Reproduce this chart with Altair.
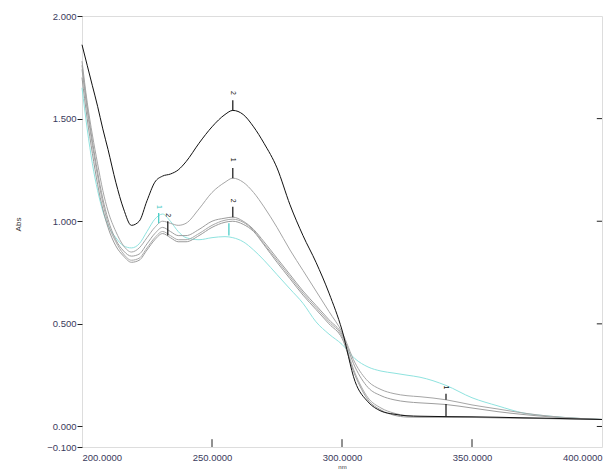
import altair as alt
import pandas as pd

wl = [200, 202, 204, 206, 208, 210, 213, 216, 219, 222, 225, 228, 231, 234, 237, 240,
      245, 250, 255, 258, 262, 266, 270, 275, 280, 285, 290, 295, 300, 305, 310, 315,
      320, 325, 330, 340, 350, 360, 370, 380, 390, 400]

cyan = [1.65, 1.45, 1.28, 1.15, 1.05, 0.98, 0.92, 0.88, 0.87, 0.89, 0.95, 1.01, 1.035, 1.00, 0.95, 0.92,
        0.91, 0.92, 0.925, 0.92, 0.90, 0.86, 0.81, 0.74, 0.67, 0.60, 0.51, 0.45, 0.40, 0.33, 0.29, 0.27,
        0.26, 0.25, 0.24, 0.20, 0.14, 0.10, 0.065, 0.05, 0.04, 0.034]
gray_b = [1.70, 1.50, 1.33, 1.18, 1.06, 0.97, 0.88, 0.83, 0.80, 0.81, 0.86, 0.91, 0.94, 0.92, 0.90, 0.90,
          0.93, 0.97, 0.995, 1.00, 0.985, 0.95, 0.885, 0.80, 0.72, 0.64, 0.57, 0.50, 0.43, 0.25, 0.13, 0.08,
          0.055, 0.046, 0.045, 0.045, 0.044, 0.042, 0.040, 0.038, 0.036, 0.034]
gray_c = [1.74, 1.54, 1.37, 1.22, 1.09, 0.99, 0.90, 0.84, 0.81, 0.82, 0.87, 0.92, 0.95, 0.93, 0.91, 0.91,
          0.94, 0.98, 1.005, 1.01, 0.995, 0.955, 0.89, 0.81, 0.73, 0.65, 0.58, 0.51, 0.44, 0.26, 0.14, 0.09,
          0.065, 0.052, 0.048, 0.046, 0.045, 0.043, 0.041, 0.039, 0.036, 0.034]
gray_a = [1.76, 1.56, 1.39, 1.24, 1.11, 1.01, 0.91, 0.855, 0.83, 0.84, 0.89, 0.94, 0.97, 0.95, 0.93, 0.93,
          0.96, 1.00, 1.015, 1.02, 1.00, 0.96, 0.90, 0.82, 0.74, 0.66, 0.59, 0.52, 0.45, 0.29, 0.19, 0.15,
          0.13, 0.12, 0.115, 0.107, 0.09, 0.072, 0.058, 0.047, 0.04, 0.034]
curve_1 = [1.78, 1.58, 1.42, 1.28, 1.15, 1.05, 0.95, 0.88, 0.85, 0.87, 0.92, 0.97, 1.00, 0.99, 0.98, 0.99,
           1.06, 1.14, 1.19, 1.21, 1.19, 1.14, 1.07, 0.97, 0.86, 0.76, 0.66, 0.56, 0.46, 0.31, 0.22, 0.18,
           0.16, 0.15, 0.145, 0.13, 0.105, 0.085, 0.065, 0.05, 0.04, 0.034]
black = [1.86, 1.76, 1.66, 1.56, 1.45, 1.35, 1.19, 1.06, 0.98, 1.00, 1.10, 1.19, 1.22, 1.23, 1.25, 1.29,
         1.38, 1.46, 1.52, 1.54, 1.52, 1.46, 1.38, 1.26, 1.08, 0.93, 0.80, 0.65, 0.47, 0.22, 0.12, 0.075,
         0.06, 0.052, 0.05, 0.048, 0.047, 0.045, 0.042, 0.04, 0.037, 0.034]

series_names = ["cyan", "gray_b", "gray_c", "gray_a", "curve_1", "black"]
series_vals = [cyan, gray_b, gray_c, gray_a, curve_1, black]
series_colors = ["#8fe3df", "#9a9a9a", "#a8a8a8", "#9e9e9e", "#a6a6a6", "#111111"]
series_widths = [1.0, 1.0, 1.0, 1.0, 1.0, 1.6]

rows = []
for k, (name, vals) in enumerate(zip(series_names, series_vals)):
    for w, v in zip(wl, vals):
        rows.append({"nm": w, "abs": v, "series": name, "k": k})
df = pd.DataFrame(rows)

# peak markers (arrow ticks + rotated labels)
mk_nm = [258, 258, 258, 233, 229.5, 340, 340, 256.5]
mk_tip = [1.54, 1.21, 1.02, 0.93, 0.99, 0.13, 0.05, 0.93]
mk_top = [1.59, 1.26, 1.07, 1.00, 1.04, 0.16, 0.11, 0.99]
mk_label = ["2", "1", "2", "2", "1", "1", "", ""]
mk_label_y = [1.625, 1.30, 1.10, 1.03, 1.07, 0.19, 0.19, 0.19]
mk_color = ["#111111", "#111111", "#111111", "#111111", "#3fc9c4", "#111111", "#111111", "#3fc9c4"]
mk = pd.DataFrame({"nm": mk_nm, "tip": mk_tip, "top": mk_top, "label": mk_label,
                   "ly": mk_label_y, "color": mk_color})

# inward frame ticks
xtick_vals = [250, 300, 350]
rtick_vals = [0.0, 0.5, 1.0, 1.5]
xt = pd.DataFrame({"nm": xtick_vals, "y0": [-0.1] * 3, "y1": [-0.062] * 3})
rt = pd.DataFrame({"v": rtick_vals, "x0": [398.0] * 4, "x1": [400.0] * 4})

xscale = alt.Scale(domain=[200, 400], nice=False, zero=False)
yscale = alt.Scale(domain=[-0.1, 2.0], nice=False, zero=False)

xaxis = alt.Axis(values=[200, 250, 300, 350, 400], format=".4f", title="nm", ticks=False,
                 labelPadding=5, labelFontSize=9.5, labelColor="#3a3a5c", grid=False, domain=False,
                 titleFontSize=6, titleY=16, titleBaseline="top", titleColor="#333333",
                 titleFontWeight="normal",
                 labelFont="Liberation Sans", titleFont="Liberation Sans")
yaxis = alt.Axis(values=[-0.1, 0.0, 0.5, 1.0, 1.5, 2.0], format=".3f", title="Abs", tickSize=5,
                 tickColor="#222222", labelPadding=1, labelFontSize=9.5, labelColor="#3a3a5c",
                 grid=False, domain=False, titleFontSize=8, titleColor="#333333",
                 titleFontWeight="normal",
                 titleX=-64, titleY=208, titleAlign="center", titleBaseline="middle",
                 labelFont="Liberation Sans", titleFont="Liberation Sans")

lines = alt.Chart(df).mark_line(interpolate="monotone").encode(
    x=alt.X("nm:Q", scale=xscale, axis=xaxis),
    y=alt.Y("abs:Q", scale=yscale, axis=yaxis),
    color=alt.Color("series:N", scale=alt.Scale(domain=series_names, range=series_colors), legend=None),
    strokeWidth=alt.StrokeWidth("series:N", scale=alt.Scale(domain=series_names, range=series_widths), legend=None),
    detail="series:N",
)

arrows = alt.Chart(mk).mark_rule(strokeWidth=1.2).encode(
    x="nm:Q", y="tip:Q", y2="top:Q", color=alt.Color("color:N", scale=None)
)
labels = alt.Chart(mk).mark_text(angle=90, fontSize=7, font="Liberation Sans").encode(
    x="nm:Q", y="ly:Q", text="label:N", color=alt.Color("color:N", scale=None)
)
xticks = alt.Chart(xt).mark_rule(color="#222222", strokeWidth=1).encode(x="nm:Q", y="y0:Q", y2="y1:Q")
rticks = alt.Chart(rt).mark_rule(color="#222222", strokeWidth=1).encode(y="v:Q", x="x0:Q", x2="x1:Q")

chart = alt.layer(lines, arrows, labels, xticks, rticks).properties(
    width=520, height=431,
    autosize=alt.AutoSizeParams(type="none"),
    padding={"left": 82, "top": 16, "right": 14, "bottom": 22},
).configure_view(stroke="#333333", strokeWidth=1.4).configure(background="white")

chart.save("out.html", embed_options={"renderer": "svg", "actions": False})
